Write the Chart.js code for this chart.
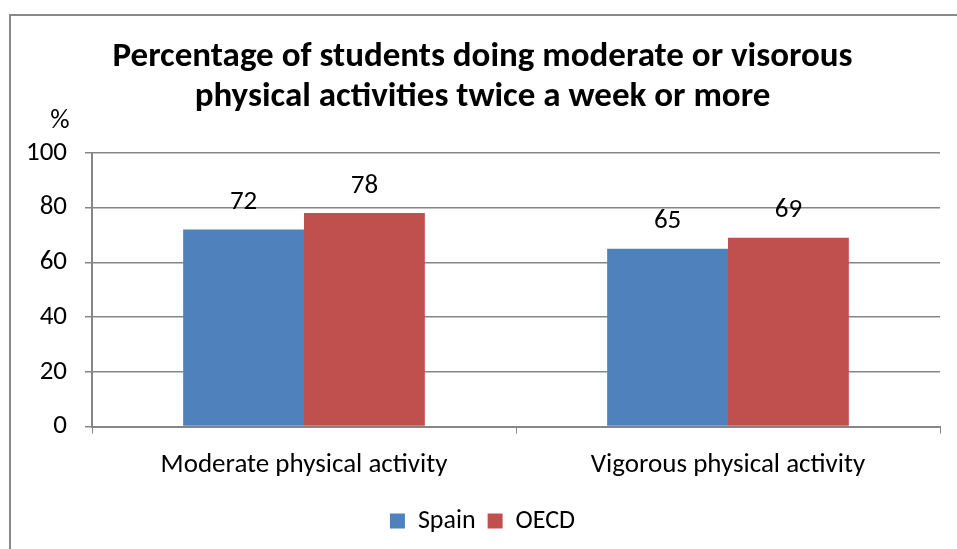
<!DOCTYPE html>
<html>
<head>
<meta charset="utf-8">
<script src="https://cdn.jsdelivr.net/npm/chart.js@4"></script>
<style>
    body { margin: 0; background: #fff; }
    #wrap { position: relative; width: 957px; height: 549px; overflow: hidden; }
    #frame { position: absolute; left: 9px; top: 14px; width: 960px; height: 600px; border: 2px solid #898989; box-sizing: border-box; }
    canvas { position: absolute; left: 0; top: 0; }
</style>
</head>
<body>
<div id="wrap">
    <div id="frame"></div>
    <canvas id="mygraph" width="957" height="549"></canvas>
</div>
<script>
let categories = ["Moderate physical activity", "Vigorous physical activity"];
let spainValues = [72, 65];
let oecdValues = [78, 69];
let yTicks = [0, 20, 40, 60, 80, 100];

let fontFamily = "Carlito, Lato, 'Noto Sans', sans-serif";
let axisGray = "#868686";

// draws the value above each bar and the % unit above the y axis
let labelPlugin = {
    id: "barLabels",
    afterDatasetsDraw(chart) {
        let c = chart.ctx;
        c.save();
        c.fillStyle = "#000";
        c.font = "27px " + fontFamily;
        c.textAlign = "center";
        c.textBaseline = "middle";
        chart.data.datasets.forEach(function(ds, i) {
            chart.getDatasetMeta(i).data.forEach(function(bar, j) {
                c.fillText(ds.data[j], bar.x, bar.y - 27);
            });
        });
        let y = chart.scales.y;
        c.fillText("%", y.right - 32, y.top - 32);
        c.restore();
    }
};

var ctx = document.getElementById("mygraph").getContext("2d");

var chart = new Chart(ctx, {
    type: "bar",
    data: {
        labels: categories,
        datasets: [{
            label: "Spain",
            data: spainValues,
            backgroundColor: "#4F81BD",
            categoryPercentage: 0.57,
            barPercentage: 1.0,
        }, {
            label: "OECD",
            data: oecdValues,
            backgroundColor: "#C0504D",
            categoryPercentage: 0.57,
            barPercentage: 1.0,
        }],
    },
    options: {
        responsive: false,
        animation: false,
        layout: {
            padding: { left: 25, right: 17, top: 0, bottom: 5 },
        },
        plugins: {
            title: {
                display: true,
                text: ["Percentage of students doing moderate or visorous", "physical activities twice a week or more"],
                color: "#000",
                font: { family: fontFamily, size: 35, weight: "bold", lineHeight: 1.14 },
                padding: { top: 37, bottom: 36 },
            },
            legend: {
                position: "bottom",
                labels: {
                    color: "#000",
                    font: { family: fontFamily, size: 26 },
                    boxWidth: 15,
                    boxHeight: 15,
                    padding: 12,
                },
            },
            tooltip: { enabled: false },
        },
        scales: {
            x: {
                grid: {
                    display: true,
                    drawOnChartArea: false,
                    tickLength: 7,
                    color: axisGray,
                },
                border: { color: axisGray, width: 2 },
                ticks: {
                    color: "#000",
                    font: { family: fontFamily, size: 27 },
                    padding: 15,
                },
            },
            y: {
                min: 0,
                max: 100,
                afterBuildTicks(scale) {
                    scale.ticks = yTicks.map((v) => ({ value: v }));
                },
                afterFit(scale) {
                    scale.width = 67;
                },
                grid: {
                    color: axisGray,
                    lineWidth: 1.5,
                    tickLength: 7,
                },
                border: { color: axisGray, width: 2 },
                ticks: {
                    color: "#000",
                    font: { family: fontFamily, size: 27 },
                    padding: 18,
                },
            },
        },
    },
    plugins: [labelPlugin],
});
</script>
</body>
</html>
